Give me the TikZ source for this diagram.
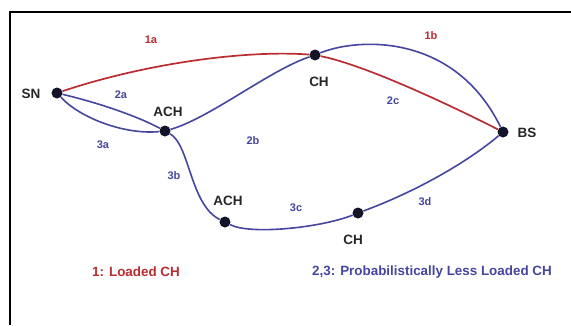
\documentclass[tikz,border=0pt]{standalone}
\usepackage{fontspec}
\setmainfont{Liberation Sans}
\definecolor{redl}{RGB}{185,45,50}
\definecolor{bluel}{RGB}{70,70,160}
\definecolor{dotc}{RGB}{20,20,40}
\begin{document}
\begin{tikzpicture}[x=1pt,y=-1pt,
  dot/.style={circle,fill=dotc,inner sep=0pt,minimum size=11pt},
  nlab/.style={font=\bfseries\fontsize{13.5}{14}\selectfont,text=black!85},
  elab/.style={font=\bfseries\fontsize{11}{12}\selectfont},
  leg/.style={font=\bfseries\fontsize{13.4}{14}\selectfont},
  redp/.style={draw=redl,line width=1.7pt},
  bluep/.style={draw=bluel,line width=1.6pt}]
\useasboundingbox (0,0) rectangle (571,325);
\fill[white] (0,0) rectangle (571,325);
\draw[line width=2pt] (10,325) -- (10,12) -- (571,12);

\node[dot] (sn) at (57,93) {};
\node[dot] (ach1) at (165,131) {};
\node[dot] (cht) at (315,55) {};
\node[dot] (bs) at (503,132) {};
\node[dot] (ach2) at (225,222) {};
\node[dot] (chb) at (358,213) {};

\node[nlab] (lsn) at (31,94) {SN};
\node[nlab] (lach1) at (168,112) {ACH};
\node[nlab] (lcht) at (319,82) {CH};
\node[nlab] (lbs) at (527,133) {BS};
\node[nlab] (lach2) at (228,201) {ACH};
\node[nlab] (lchb) at (353,240) {CH};

% red loaded path
\draw[redp] (sn) .. controls (150,62) and (250,50) .. (cht);
\draw[redp] (cht) .. controls (365,65) and (450,105) .. (bs);
% blue paths
\draw[bluep] (cht) .. controls (360,37) and (455,34) .. (bs);
\draw[bluep] (sn) .. controls (95,102) and (135,115) .. (ach1);
\draw[bluep] (sn) .. controls (80,118) and (125,135) .. (ach1);
\draw[bluep] (ach1) .. controls (210,118) and (270,70) .. (cht);
\draw[bluep] (ach1) .. controls (190,145) and (190,205) .. (ach2);
\draw[bluep] (ach2) .. controls (250,235) and (320,228) .. (chb);
\draw[bluep] (chb) .. controls (420,190) and (470,160) .. (bs);

% edge labels
\node[elab,text=redl] (e1a) at (151,40) {1a};
\node[elab,text=redl] (e1b) at (431,36) {1b};
\node[elab,text=bluel] (e2a) at (121,95) {2a};
\node[elab,text=bluel] (e2b) at (253,141) {2b};
\node[elab,text=bluel] (e2c) at (393,101) {2c};
\node[elab,text=bluel] (e3a) at (103,145) {3a};
\node[elab,text=bluel] (e3b) at (174,176) {3b};
\node[elab,text=bluel] (e3c) at (296,208) {3c};
\node[elab,text=bluel] (e3d) at (425,202) {3d};

% legend
\node[leg,text=redl] (leg1) at (136,272) {1: Loaded CH};
\node[leg,text=bluel] (leg2) at (432,272) {2,3: Probabilistically Less Loaded CH};
\end{tikzpicture}
\end{document}
